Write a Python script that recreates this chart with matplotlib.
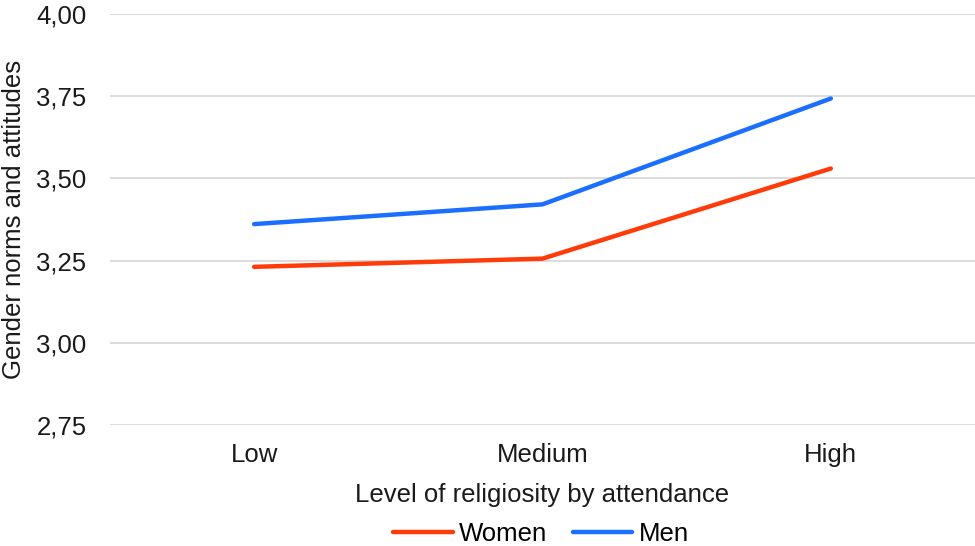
import matplotlib
matplotlib.use("Agg")
import matplotlib.pyplot as plt
from matplotlib.ticker import FixedLocator, FuncFormatter

plt.rcParams['font.family'] = ['Liberation Sans', 'DejaVu Sans']

categories = ["Low", "Medium", "High"]
women = [3.231, 3.256, 3.530]
men = [3.361, 3.421, 3.743]
y_ticks = [2.75, 3.00, 3.25, 3.50, 3.75, 4.00]

FS = 18.5
TXT = "#1a1a1a"

fig = plt.figure(figsize=(9.75, 5.46), dpi=100)
ax = fig.add_axes([110 / 975, 1 - 425 / 546, 865 / 975, (425 - 14) / 546])

x = list(range(len(categories)))
ax.plot(x, women, color="#FF3B0A", lw=3.2, solid_capstyle="round", label="Women")
ax.plot(x, men, color="#1A6FFF", lw=3.2, solid_capstyle="round", label="Men")

ax.set_xlim(-0.5, len(categories) - 0.5)
ax.set_ylim(2.75, 4.00)
ax.yaxis.set_major_locator(FixedLocator(y_ticks))
ax.yaxis.set_major_formatter(FuncFormatter(lambda v, p: f"{v:.2f}".replace(".", ",")))
ax.set_xticks(x)
ax.set_xticklabels(categories)

ax.grid(axis="y", color="#D9D9D9", lw=1.3)
ax.set_axisbelow(True)
for s in ax.spines.values():
    s.set_visible(False)
ax.tick_params(axis="both", length=0, labelsize=FS, colors=TXT)
ax.tick_params(axis="y", pad=17)
ax.tick_params(axis="x", pad=13)

ax.set_xlabel("Level of religiosity by attendance", fontsize=FS, color=TXT)
ax.xaxis.label.set_verticalalignment("baseline")
ax.xaxis.set_label_coords(0.5, -(502 - 425) / 411)

ax.set_ylabel("Gender norms and attitudes", fontsize=FS, color=TXT)
ax.yaxis.set_label_coords(-84 / 865, 0.5)

fig.legend(loc="center", bbox_to_anchor=(541 / 975, 1 - 534 / 546), ncol=2, frameon=False,
           fontsize=FS, handlelength=2.3, handletextpad=0.25, columnspacing=1.0, borderaxespad=0)

fig.savefig("out.png", dpi=100, facecolor="white")
